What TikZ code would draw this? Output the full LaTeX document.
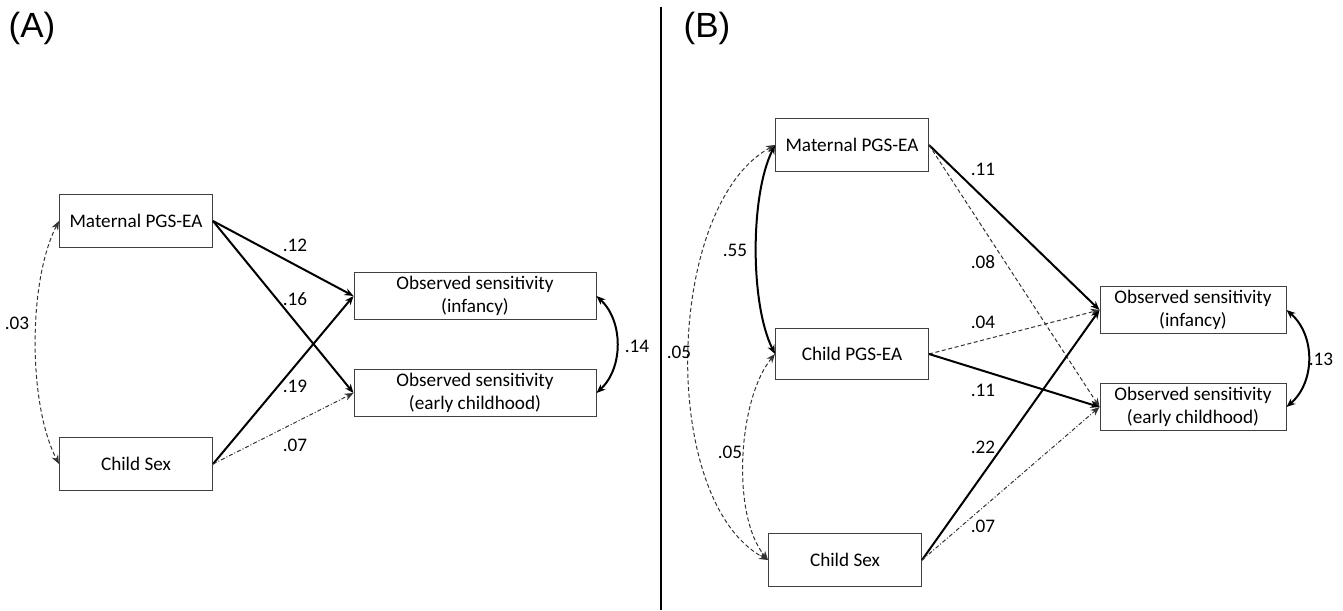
\documentclass[tikz,border=0pt]{standalone}
\usepackage{fontspec}
\setmainfont{Carlito}
\newfontfamily\panelfont{Liberation Sans}
\usetikzlibrary{arrows.meta}
\tikzset{
  var/.style={draw=black!75,line width=0.5pt,font=\fontsize{9.6}{11.5}\selectfont,
    align=center,inner sep=0pt,minimum width=76.5pt,minimum height=26.5pt},
  outc/.style={var,minimum height=23.5pt},
  coef/.style={font=\fontsize{9.6}{11.5}\selectfont,inner sep=0pt},
  panel/.style={font=\panelfont\fontsize{17.5}{20}\selectfont,inner sep=0pt},
  tip/.style={-{Stealth[length=4.5pt,width=3.6pt]}},
  bitip/.style={{Stealth[length=4.5pt,width=3.6pt]}-{Stealth[length=4.5pt,width=3.6pt]}},
  strong/.style={tip,line width=1pt},
  weak/.style={tip,line width=0.5pt,black!80,dash pattern=on 2pt off 1.3pt},
  dashdot/.style={tip,line width=0.5pt,black!80,dash pattern=on 2pt off 1pt on 0.5pt off 1pt},
  covstrong/.style={bitip,line width=1pt},
  covweak/.style={bitip,line width=0.5pt,black!80,dash pattern=on 2pt off 1.3pt},
}
\begin{document}
\begin{tikzpicture}[x=0.5pt,y=-0.5pt]
\useasboundingbox (0,0) rectangle (1343,610);
% panel A
\node[panel] (lblA) at (32,28) {(A)};
\node[var] (matA) at (136,221) {Maternal PGS-EA};
\node[var] (sexA) at (136,464) {Child Sex};
\node[outc,minimum width=121pt] (infA) at (475,296) {Observed sensitivity\\(infancy)};
\node[outc,minimum width=121pt] (earlyA) at (475,393) {Observed sensitivity\\(early childhood)};
\draw[strong] (matA.east) -- (infA.west);
\draw[strong] (matA.east) -- (earlyA.west);
\draw[strong] (sexA.east) -- (infA.west);
\draw[dashdot] (sexA.east) -- (earlyA.west);
\draw[covweak] (matA.west) .. controls +(-31,60) and +(-31,-60) .. (sexA.west);
\draw[covstrong] (infA.east) .. controls +(27,25) and +(27,-25) .. (earlyA.east);
\node[coef] (cA1) at (295,245) {.12};
\node[coef] (cA2) at (295,299) {.16};
\node[coef] (cA3) at (295,386) {.19};
\node[coef] (cA4) at (295,445) {.07};
\node[coef] (cA5) at (17,323) {.03};
\node[coef] (cA6) at (637,346) {.14};
% divider
\coordinate (divtop) at (661,7);
\coordinate (divbot) at (661,610);
\draw[line width=1.2pt] (divtop) -- (divbot);
% panel B
\node[panel] (lblB) at (707,28) {(B)};
\node[var] (matB) at (852,145) {Maternal PGS-EA};
\node[var,minimum height=25.5pt] (cpgsB) at (852,354) {Child PGS-EA};
\node[var] (sexB) at (845,560) {Child Sex};
\node[outc,minimum width=93pt] (infB) at (1193,310) {Observed sensitivity\\(infancy)};
\node[outc,minimum width=93pt] (earlyB) at (1193,407) {Observed sensitivity\\(early childhood)};
\draw[strong] (matB.east) -- (infB.west);
\draw[weak] (matB.east) -- (earlyB.west);
\draw[weak] (cpgsB.east) -- (infB.west);
\draw[strong] (cpgsB.east) -- (earlyB.west);
\draw[strong] (sexB.east) -- (infB.west);
\draw[dashdot] (sexB.east) -- (earlyB.west);
\draw[covstrong] (matB.west) .. controls +(-25,50) and +(-25,-50) .. (cpgsB.west);
\draw[covweak] (matB.west) .. controls +(-110,60) and +(-110,-60) .. (sexB.west);
\draw[covweak] (cpgsB.west) .. controls +(-37,45) and +(-37,-45) .. (sexB.west);
\draw[covstrong] (infB.east) .. controls +(29,25) and +(29,-25) .. (earlyB.east);
\node[coef] (cB1) at (983,169) {.11};
\node[coef] (cB2) at (983,262) {.08};
\node[coef] (cB3) at (983,322) {.04};
\node[coef] (cB4) at (983,390) {.11};
\node[coef] (cB5) at (983,447) {.22};
\node[coef] (cB6) at (983,526) {.07};
\node[coef] (cB7) at (735,250) {.55};
\node[coef] (cB8) at (679,352) {.05};
\node[coef] (cB9) at (730,452) {.05};
\node[coef] (cB10) at (1321,359) {.13};
\end{tikzpicture}
\end{document}
